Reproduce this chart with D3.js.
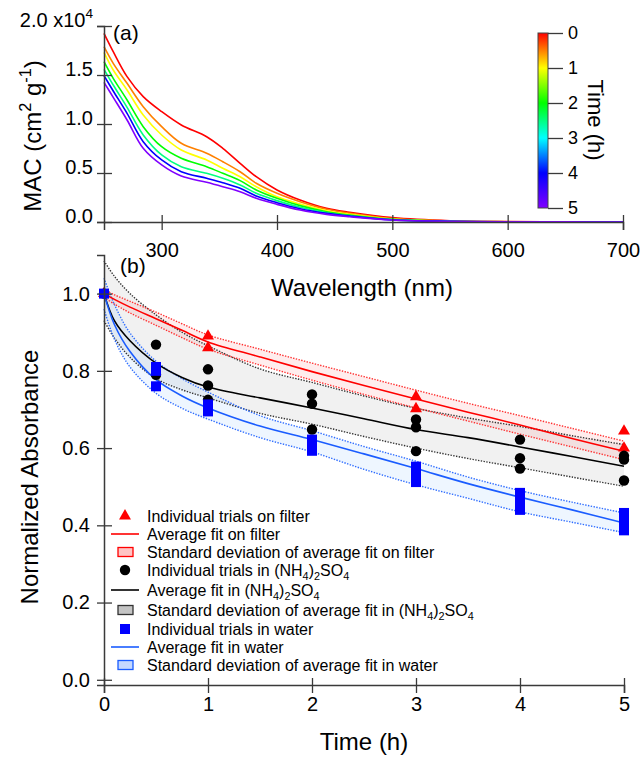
<!DOCTYPE html>
<html>
<head>
<meta charset="utf-8">
<script src="https://cdn.jsdelivr.net/npm/d3@7"></script>
<style>
  body { margin: 0; background: #fff; }
  svg { font-family: "Liberation Sans", Arial, sans-serif; }
</style>
</head>
<body>
<div id="chart"></div>
<script>
//---------------- panel (a) data: MAC spectra, in units of 1e4 cm2 g-1
var wavelengths = [250, 258, 270, 284, 300, 317, 339, 353, 368, 382, 400, 420, 443, 463, 500, 550, 600, 650, 700];
var spectraTimes = [0, 0.5, 1, 2, 2.5, 4, 5];
var mac0 = [1.925, 1.738, 1.483, 1.279, 1.126, 0.990, 0.870, 0.752, 0.599, 0.462, 0.327, 0.224, 0.139, 0.099, 0.045, 0.013, 0.004, 0.001, 0];
var mac1 = [1.789, 1.619, 1.415, 1.177, 0.973, 0.803, 0.701, 0.615, 0.513, 0.395, 0.293, 0.207, 0.130, 0.089, 0.035, 0.010, 0.003, 0.001, 0];
var mac2 = [1.731, 1.551, 1.347, 1.092, 0.888, 0.735, 0.633, 0.548, 0.462, 0.360, 0.258, 0.184, 0.115, 0.078, 0.030, 0.009, 0.003, 0.001, 0];
var mac3 = [1.636, 1.466, 1.245, 0.973, 0.768, 0.650, 0.564, 0.497, 0.422, 0.327, 0.242, 0.167, 0.105, 0.071, 0.027, 0.008, 0.002, 0.001, 0];
var mac4 = [1.558, 1.398, 1.170, 0.888, 0.684, 0.564, 0.497, 0.446, 0.378, 0.293, 0.218, 0.150, 0.095, 0.064, 0.024, 0.007, 0.002, 0.001, 0];
var mac5 = [1.493, 1.337, 1.109, 0.820, 0.633, 0.513, 0.446, 0.401, 0.344, 0.265, 0.197, 0.136, 0.089, 0.061, 0.022, 0.007, 0.002, 0.001, 0];
var mac6 = [1.425, 1.272, 1.041, 0.752, 0.582, 0.469, 0.405, 0.360, 0.309, 0.242, 0.180, 0.122, 0.078, 0.054, 0.020, 0.006, 0.002, 0.001, 0];
var macSpectra = [mac0, mac1, mac2, mac3, mac4, mac5, mac6];

//colour bar stops (time in h)
var barTimes = [0, 1, 2, 3, 4, 5];
var barColors = ["#ff0000", "#ffff00", "#00ff00", "#00ffff", "#0000ff", "#8000ff"];

//---------------- panel (b) data
var filterTimes = [0, 1, 1, 3, 3, 5, 5];
var filterValues = [1.0, 0.89, 0.86, 0.733, 0.702, 0.644, 0.60];
var sulfateTimes = [0, 0.5, 0.5, 1, 1, 1, 2, 2, 2, 3, 3, 3, 4, 4, 4, 5, 5, 5];
var sulfateValues = [1.0, 0.868, 0.79, 0.804, 0.762, 0.725, 0.739, 0.715, 0.648, 0.674, 0.654, 0.592, 0.622, 0.574, 0.547, 0.58, 0.57, 0.516];
var waterTimes = [0, 0.5, 0.5, 0.5, 1, 1, 1, 2, 2, 2, 3, 3, 3, 4, 4, 4, 5, 5, 5];
var waterValues = [1.0, 0.81, 0.80, 0.76, 0.713, 0.703, 0.695, 0.622, 0.607, 0.593, 0.552, 0.532, 0.512, 0.484, 0.462, 0.44, 0.432, 0.41, 0.387];

//average fits and their standard deviation envelopes
var fitTimes = [0, 0.1, 0.25, 0.5, 0.75, 1, 1.5, 2, 2.5, 3, 3.5, 4, 4.5, 5];
var filterFit = [1.0, 0.985, 0.965, 0.935, 0.905, 0.875, 0.836, 0.798, 0.762, 0.727, 0.693, 0.66, 0.625, 0.592];
var filterUpper = [1.01, 0.997, 0.98, 0.952, 0.922, 0.893, 0.856, 0.82, 0.785, 0.75, 0.716, 0.684, 0.651, 0.618];
var filterLower = [0.99, 0.973, 0.95, 0.918, 0.886, 0.856, 0.815, 0.776, 0.739, 0.704, 0.67, 0.636, 0.603, 0.57];
var sulfateFit = [1.0, 0.93, 0.878, 0.82, 0.783, 0.758, 0.73, 0.704, 0.676, 0.648, 0.627, 0.603, 0.578, 0.553];
var sulfateUpper = [1.085, 1.045, 1.0, 0.945, 0.90, 0.865, 0.805, 0.77, 0.735, 0.703, 0.678, 0.656, 0.632, 0.609];
var sulfateLower = [0.93, 0.885, 0.835, 0.78, 0.751, 0.73, 0.69, 0.662, 0.63, 0.60, 0.573, 0.549, 0.525, 0.501];
var waterFit = [1.0, 0.92, 0.85, 0.777, 0.735, 0.704, 0.657, 0.622, 0.585, 0.547, 0.508, 0.473, 0.44, 0.406];
var waterUpper = [1.04, 0.972, 0.898, 0.825, 0.78, 0.745, 0.684, 0.645, 0.604, 0.566, 0.525, 0.49, 0.46, 0.432];
var waterLower = [0.96, 0.882, 0.81, 0.742, 0.703, 0.675, 0.627, 0.59, 0.545, 0.505, 0.47, 0.435, 0.408, 0.381];

var legendLabels = [
  "Individual trials on filter",
  "Average fit on filter",
  "Standard deviation of average fit on filter",
  "Individual trials in (NH_4)_2SO_4",
  "Average fit in (NH_4)_2SO_4",
  "Standard deviation of average fit in (NH_4)_2SO_4",
  "Individual trials in water",
  "Average fit in water",
  "Standard deviation of average fit in water"
];
var legendRows = [516, 534, 552, 570, 590, 610, 629, 647, 665];

//-----------------------------------------------------------------------------

var svg = d3.select("#chart").append("svg")
  .attr("width", 643)
  .attr("height", 757);

var axisColor = "#3a3a3a";

//writes a string with _x subscripts and ^x superscripts as tspans
function richText(sel, str, size) {
  var parts = str.split(/(_[0-9]|\^-?[0-9])/).filter(function(p) { return p !== ""; });
  var shift = 0;
  parts.forEach(function(p) {
    var t = sel.append("tspan");
    var target = 0;
    var txt = p;
    if (p[0] === "_") { target = size * 0.28; txt = p.slice(1); t.attr("font-size", size * 0.68); }
    if (p[0] === "^") { target = -size * 0.42; txt = p.slice(1); t.attr("font-size", size * 0.68); }
    t.attr("dy", target - shift).text(txt);
    shift = target;
  });
}

//cross ticks, as in the original
function crossX(g) {
  g.attr("font-family", null);
  g.selectAll(".tick line").attr("y1", -7).attr("y2", 8).attr("stroke", axisColor).attr("stroke-width", 1.3);
  g.select(".domain").attr("stroke", axisColor).attr("stroke-width", 1.5);
}
function crossY(g) {
  g.attr("font-family", null);
  g.selectAll(".tick line").attr("x1", 8).attr("x2", -7).attr("stroke", axisColor).attr("stroke-width", 1.3);
  g.select(".domain").attr("stroke", axisColor).attr("stroke-width", 1.5);
}

//---------------- panel (a)
var xA = d3.scaleLinear().domain([250, 700]).range([104, 623]);
var yA = d3.scaleLinear().domain([0, 2.0]).range([222, 26]);
var color = d3.scaleLinear().domain(barTimes).range(barColors);

var lineA = d3.line()
  .x(function(d, i) { return xA(wavelengths[i]); })
  .y(function(d) { return yA(d); })
  .curve(d3.curveCatmullRom.alpha(0.5));

svg.append("g").selectAll("path")
  .data(macSpectra)
  .enter()
  .append("path")
  .attr("d", lineA)
  .attr("fill", "none")
  .attr("stroke", function(d, i) { return color(spectraTimes[i]); })
  .attr("stroke-width", 1.6);

var gxA = svg.append("g")
  .attr("transform", "translate(0,222)")
  .call(d3.axisBottom(xA).tickValues([300, 400, 500, 600, 700]).tickSizeOuter(0).tickSize(8));
crossX(gxA);
gxA.selectAll("text").attr("y", 21).attr("font-size", 20).attr("fill", "#000");

var gyA = svg.append("g")
  .attr("transform", "translate(104,0)")
  .call(d3.axisLeft(yA).tickValues([0, 0.5, 1.0, 1.5, 2.0]).tickSizeOuter(0).tickSize(7).tickFormat(""));
crossY(gyA);
gyA.selectAll(".tick text").remove();
gyA.selectAll(".tick").append("text")
  .attr("x", -11)
  .attr("dy", "0.35em")
  .attr("text-anchor", "end")
  .attr("font-size", 20)
  .attr("fill", "#000")
  .each(function(d) {
    richText(d3.select(this), d === 2 ? "2.0 x10^4" : d3.format(".1f")(d), 20);
  });

svg.append("text")
  .attr("x", 113).attr("y", 40)
  .attr("font-size", 21)
  .text("(a)");

var macLabel = svg.append("text")
  .attr("transform", "translate(41,136) rotate(-90)")
  .attr("text-anchor", "middle")
  .attr("font-size", 24);
richText(macLabel, "MAC (cm^2 g^-1)", 24);

svg.append("text")
  .attr("x", 362).attr("y", 296)
  .attr("text-anchor", "middle")
  .attr("font-size", 24)
  .text("Wavelength (nm)");

//colour bar
var grad = svg.append("defs").append("linearGradient")
  .attr("id", "timeGrad")
  .attr("x1", 0).attr("y1", 0).attr("x2", 0).attr("y2", 1);
grad.selectAll("stop")
  .data(barTimes)
  .enter()
  .append("stop")
  .attr("offset", function(d) { return d / 5; })
  .attr("stop-color", function(d, i) { return barColors[i]; });

var cbY = d3.scaleLinear().domain([0, 5]).range([33, 208]);
svg.append("rect")
  .attr("x", 538).attr("y", 33)
  .attr("width", 10).attr("height", 175)
  .attr("fill", "url(#timeGrad)")
  .attr("stroke", "#444")
  .attr("stroke-width", 1);
var gcb = svg.append("g")
  .attr("transform", "translate(548,0)")
  .call(d3.axisRight(cbY).ticks(5).tickSize(15).tickPadding(5).tickSizeOuter(0));
gcb.attr("font-family", null);
gcb.select(".domain").remove();
gcb.selectAll(".tick line").attr("stroke", axisColor).attr("stroke-width", 1.3);
gcb.selectAll("text").attr("font-size", 18).attr("fill", "#000");

svg.append("text")
  .attr("transform", "translate(588,120) rotate(90)")
  .attr("text-anchor", "middle")
  .attr("font-size", 22)
  .text("Time (h)");

//---------------- panel (b)
var xB = d3.scaleLinear().domain([0, 5]).range([104, 624]);
var yB = d3.scaleLinear().domain([-0.0135, 1.1]).range([685, 255]);
var smooth = d3.curveCatmullRom.alpha(0.5);

function band(upper, lower) {
  return d3.area()
    .x(function(d, i) { return xB(fitTimes[i]); })
    .y0(function(d, i) { return yB(lower[i]); })
    .y1(function(d, i) { return yB(upper[i]); })
    .curve(smooth)(upper);
}
var lineB = d3.line()
  .x(function(d, i) { return xB(fitTimes[i]); })
  .y(function(d) { return yB(d); })
  .curve(smooth);

var groups = [
  {fit: sulfateFit, up: sulfateUpper, lo: sulfateLower, fill: "rgba(0,0,0,0.055)", dot: "#333", line: "#000"},
  {fit: waterFit, up: waterUpper, lo: waterLower, fill: "rgba(40,140,255,0.08)", dot: "#2f6dff", line: "#1a5cff"},
  {fit: filterFit, up: filterUpper, lo: filterLower, fill: "rgba(255,0,0,0.07)", dot: "#ff3030", line: "#ff0000"}
];

groups.forEach(function(g) {
  svg.append("path").attr("d", band(g.up, g.lo)).attr("fill", g.fill);
});
groups.forEach(function(g) {
  [g.up, g.lo].forEach(function(arr) {
    svg.append("path")
      .attr("d", lineB(arr))
      .attr("fill", "none")
      .attr("stroke", g.dot)
      .attr("stroke-width", 1.4)
      .attr("stroke-dasharray", "1.4,1.4");
  });
});
groups.forEach(function(g) {
  svg.append("path")
    .attr("d", lineB(g.fit))
    .attr("fill", "none")
    .attr("stroke", g.line)
    .attr("stroke-width", 1.6);
});

//individual trials
var tri = d3.symbol().type(d3.symbolTriangle).size(62);
svg.append("g").selectAll("path")
  .data(filterValues)
  .enter()
  .append("path")
  .attr("d", tri)
  .attr("transform", function(d, i) { return "translate(" + xB(filterTimes[i]) + "," + yB(d) + ")"; })
  .attr("fill", "#ff0000");

svg.append("g").selectAll("circle")
  .data(sulfateValues)
  .enter()
  .append("circle")
  .attr("cx", function(d, i) { return xB(sulfateTimes[i]); })
  .attr("cy", function(d) { return yB(d); })
  .attr("r", 5.2)
  .attr("fill", "#000");

svg.append("g").selectAll("rect")
  .data(waterValues)
  .enter()
  .append("rect")
  .attr("x", function(d, i) { return xB(waterTimes[i]) - 5; })
  .attr("y", function(d) { return yB(d) - 5; })
  .attr("width", 10)
  .attr("height", 10)
  .attr("fill", "#0000ff");

//axes
var gxB = svg.append("g")
  .attr("transform", "translate(0,685)")
  .call(d3.axisBottom(xB).ticks(5).tickSizeOuter(0).tickSize(8));
crossX(gxB);
gxB.selectAll("text").attr("y", 12).attr("font-size", 20).attr("fill", "#000");

var gyB = svg.append("g")
  .attr("transform", "translate(104,0)")
  .call(d3.axisLeft(yB).tickValues([0, 0.2, 0.4, 0.6, 0.8, 1.0]).tickFormat(d3.format(".1f")).tickSizeOuter(0).tickSize(7));
crossY(gyB);
gyB.selectAll("text").attr("x", -14).attr("font-size", 20).attr("fill", "#000");

svg.append("text")
  .attr("x", 120).attr("y", 273)
  .attr("font-size", 21)
  .text("(b)");

svg.append("text")
  .attr("transform", "translate(38,477) rotate(-90)")
  .attr("text-anchor", "middle")
  .attr("font-size", 24)
  .text("Normalized Absorbance");

svg.append("text")
  .attr("x", 364).attr("y", 750)
  .attr("text-anchor", "middle")
  .attr("font-size", 24)
  .text("Time (h)");

//legend
var legend = svg.append("g").attr("class", "legend");
var legendFills = {"#000": "#c4c4c4", "#1a5cff": "#c4d8ff", "#ff0000": "#ffc4c4"};
legendLabels.forEach(function(label, i) {
  var y = legendRows[i];
  var kind = i % 3;
  var g = groups[[2, 0, 1][Math.floor(i / 3)]];
  if (kind === 0) {
    if (i === 0) legend.append("path").attr("d", tri).attr("transform", "translate(125," + y + ")").attr("fill", "#ff0000");
    if (i === 3) legend.append("circle").attr("cx", 125).attr("cy", y).attr("r", 5.2).attr("fill", "#000");
    if (i === 6) legend.append("rect").attr("x", 120).attr("y", y - 5).attr("width", 10).attr("height", 10).attr("fill", "#0000ff");
  } else if (kind === 1) {
    legend.append("line")
      .attr("x1", 111).attr("x2", 139)
      .attr("y1", y).attr("y2", y)
      .attr("stroke", g.line)
      .attr("stroke-width", 1.6);
  } else {
    legend.append("rect")
      .attr("x", 118).attr("y", y - 4.5)
      .attr("width", 15).attr("height", 9)
      .attr("fill", legendFills[g.line])
      .attr("stroke", g.line === "#000" ? "#333" : g.line)
      .attr("stroke-width", 1.3);
  }
  var t = legend.append("text")
    .attr("x", 147).attr("y", y + 5.5)
    .attr("font-size", 16);
  richText(t, label, 16);
});
</script>
</body>
</html>
